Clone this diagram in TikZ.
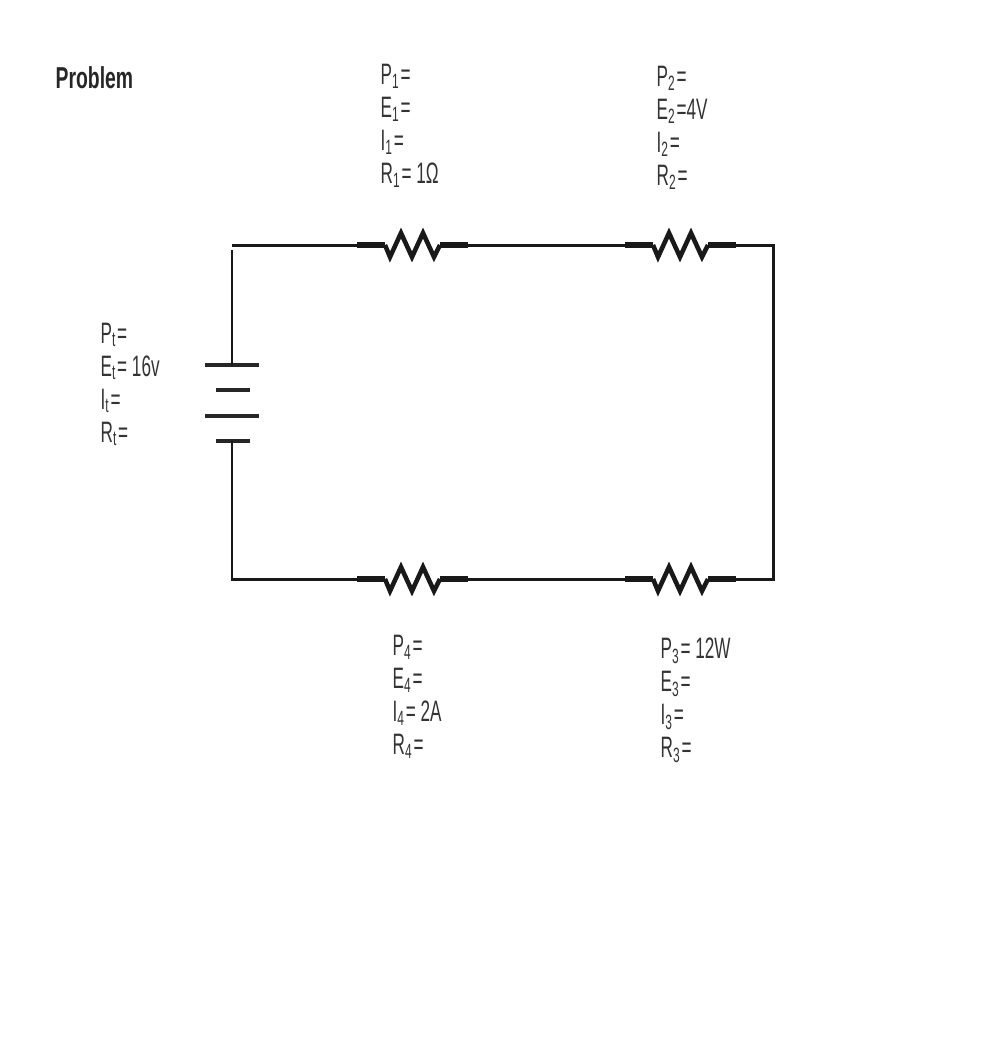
\documentclass[tikz,border=0pt]{standalone}
\usepackage{fontspec}
\setmainfont[FakeStretch=0.58]{Liberation Sans}
\newfontfamily\titlefont[FakeStretch=0.64]{Liberation Sans Bold}
\tikzset{
    wire/.style={line width=0.85pt,color=black!90},
    lead/.style={line width=1.5pt,color=black!90},
    plate/.style={line width=1.2pt,color=black!85},
    values/.style={anchor=north west,inner sep=0pt,align=left,color=black!80,
        font=\fontsize{8.4}{9.4}\selectfont},
}
\begin{document}
\begin{tikzpicture}[x=0.01cm,y=-0.01cm,line join=miter,line cap=butt]
    \useasboundingbox (0,0) rectangle (1000,1054);
    \def\s{\textsubscript}
    \node[anchor=west,inner sep=0pt,font=\titlefont\fontsize{8.6}{10}\selectfont,color=black!85] (title) at (55,78) {Problem};
    % value lists
    \node[values] (valone) at (380,63) {P\s{1}=\\E\s{1}=\\I\s{1}=\\R\s{1}= 1Ω};
    \node[values] (valtwo) at (656,65) {P\s{2}=\\E\s{2}=4V\\I\s{2}=\\R\s{2}=};
    \node[values] (valbat) at (100,322) {P\s{t}=\\E\s{t}= 16v\\I\s{t}=\\R\s{t}=};
    \node[values] (valfour) at (392,634) {P\s{4}=\\E\s{4}=\\I\s{4}= 2A\\R\s{4}=};
    \node[values] (valthree) at (660,637) {P\s{3}= 12W\\E\s{3}=\\I\s{3}=\\R\s{3}=};
    % resistors
    \foreach \nm/\x/\y in {rone/357/245,rtwo/625/245,rthree/625/579,rfour/357/579}{
        \coordinate (\nm l) at (\x,\y);
        \coordinate (\nm r) at (\x+111,\y);
        \draw[lead] (\nm l)--++(28,0);
        \draw[lead] (\nm r)--++(-28,0);
        \draw[wire,line width=1.3pt] (\x+28,\y)--++(5,12)--++(11,-24)--++(11,24)--++(11,-24)--++(11,24)--++(6,-12);
    }
    % battery
    \coordinate (battop) at (232,365);
    \coordinate (batbot) at (232,441);
    \draw[plate] (205,365)--(259,365);
    \draw[plate] (216,390)--(250,390);
    \draw[plate] (205,416)--(259,416);
    \draw[plate] (216,441)--(250,441);
    % wires
    \coordinate (cornera) at (232,245);
    \coordinate (cornerb) at (232,250);
    \coordinate (cornerc) at (773,245);
    \coordinate (cornerd) at (773,579);
    \coordinate (cornere) at (232,579);
    \draw[wire] (cornerb)--(battop);
    \draw[wire] (cornera)--(ronel);
    \draw[wire] (roner)--(rtwol);
    \draw[wire] (rtwor)--(cornerc)--(cornerd)--(rthreer);
    \draw[wire] (rthreel)--(rfourr);
    \draw[wire] (rfourl)--(cornere)--(batbot);
\end{tikzpicture}
\end{document}
